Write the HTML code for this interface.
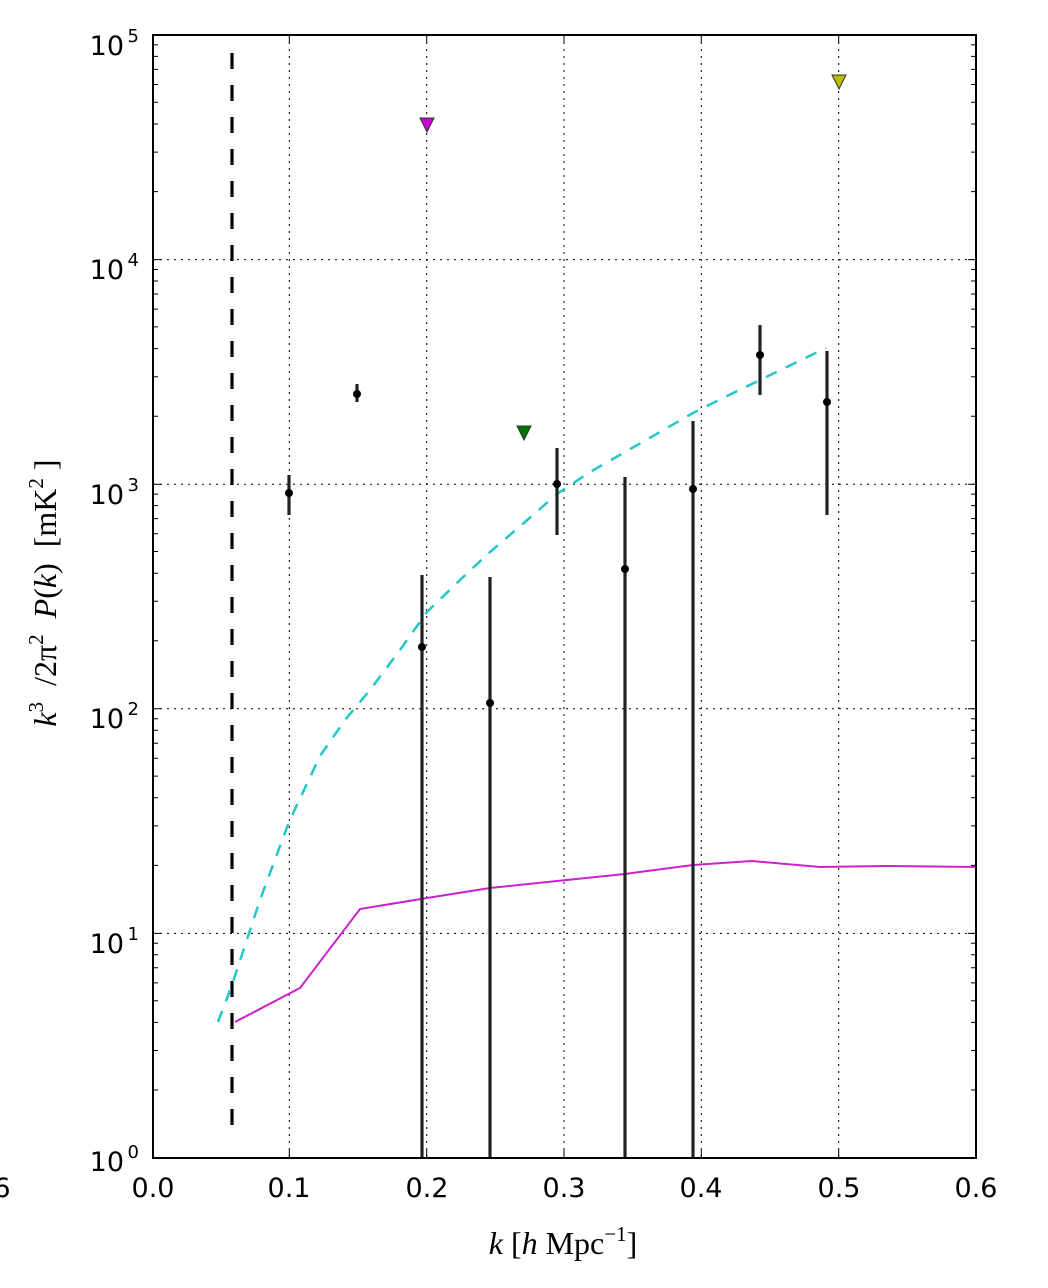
<!DOCTYPE html>
<html><head><style>body{margin:0;background:#fff}svg{display:block}</style></head><body>
<svg width="1048" height="1288" xmlns="http://www.w3.org/2000/svg" font-family="DejaVu Sans, Liberation Sans, sans-serif">
<rect width="1048" height="1288" fill="#fff"/>
<g stroke="#000" stroke-width="1" stroke-dasharray="2,5" fill="none">
<line x1="289.3" y1="35" x2="289.3" y2="1158"/><line x1="426.7" y1="35" x2="426.7" y2="1158"/>
<line x1="564" y1="35" x2="564" y2="1158"/><line x1="701.3" y1="35" x2="701.3" y2="1158"/>
<line x1="838.7" y1="35" x2="838.7" y2="1158"/>
<line x1="153" y1="259.6" x2="976" y2="259.6"/><line x1="153" y1="484.2" x2="976" y2="484.2"/>
<line x1="153" y1="708.8" x2="976" y2="708.8"/><line x1="153" y1="933.4" x2="976" y2="933.4"/>
</g>
<line x1="232" y1="53" x2="232" y2="1140" stroke="#000" stroke-width="3.2" stroke-dasharray="16,16"/>
<polyline fill="none" stroke="#22c8c8" stroke-width="2.5" stroke-dasharray="12,10" points="218,1022 232,985 260,900 289,822 320,756 345,720 370,690 400,650 427,612 460,580 490,552 525,522 557,494 590,472 625,452 660,432 693,413 727,396 760,380 793,364 826,348"/>
<polyline fill="none" stroke="#cc22cc" stroke-width="2" points="235,1022 300,988 360,909 427,898 490,888 557,881 625,874 693,865 752,861 820,867 885,866 976,867"/>
<g stroke="#222" stroke-width="3.2">
<line x1="289" y1="475" x2="289" y2="515"/><line x1="357" y1="384" x2="357" y2="402"/>
<line x1="422" y1="575" x2="422" y2="1158"/><line x1="490" y1="577" x2="490" y2="1158"/>
<line x1="557" y1="448" x2="557" y2="535"/><line x1="625" y1="477" x2="625" y2="1158"/>
<line x1="693" y1="421" x2="693" y2="1158"/><line x1="760" y1="325" x2="760" y2="395"/>
<line x1="827" y1="351" x2="827" y2="515"/>
</g>
<g fill="#000">
<circle cx="289" cy="493" r="4"/><circle cx="357" cy="394" r="4"/><circle cx="422" cy="647" r="4"/>
<circle cx="490" cy="703" r="4"/><circle cx="557" cy="484" r="4"/><circle cx="625" cy="569" r="4"/>
<circle cx="693" cy="489" r="4"/><circle cx="760" cy="355" r="4"/><circle cx="827" cy="402" r="4"/>
</g>
<polygon points="420,118 434,118 427,132" fill="#cc00cc" stroke="#333" stroke-width="1"/>
<polygon points="517,426 531,426 524,440" fill="#007700" stroke="#333" stroke-width="1"/>
<polygon points="832,75 846,75 839,89" fill="#bbbb00" stroke="#333" stroke-width="1"/>
<g stroke="#000" stroke-width="1">
<path d="M289.3,1158v-8M426.7,1158v-8M564,1158v-8M701.3,1158v-8M838.7,1158v-8M289.3,35v8M426.7,35v8M564,35v8M701.3,35v8M838.7,35v8"/>
<path d="M153,259.6h8M153,484.2h8M153,708.8h8M153,933.4h8M976,259.6h-8M976,484.2h-8M976,708.8h-8M976,933.4h-8"/>
<path id="mn" d="M153,0h5M153,-39.5h5M153,-67.6h5M153,-89.3h5M153,-107.1h5M153,-122.2h5M153,-135.2h5M153,-146.7h5M976,0h-5M976,-39.5h-5M976,-67.6h-5M976,-89.3h-5M976,-107.1h-5M976,-122.2h-5M976,-135.2h-5M976,-146.7h-5" transform="translate(0,1090)"/>
<use href="#mn" transform="translate(0,-224.6)"/><use href="#mn" transform="translate(0,-449.2)"/>
<use href="#mn" transform="translate(0,-673.8)"/><use href="#mn" transform="translate(0,-898.4)"/>
</g>
<rect x="153" y="35" width="823" height="1123" fill="none" stroke="#000" stroke-width="2"/>
<g font-size="27" fill="#000" text-anchor="middle">
<text x="153" y="1197">0.0</text><text x="289" y="1197">0.1</text><text x="427" y="1197">0.2</text>
<text x="564" y="1197">0.3</text><text x="701" y="1197">0.4</text><text x="839" y="1197">0.5</text><text x="976" y="1197">0.6</text>
<text x="2" y="1197">6</text>
</g>
<g font-size="27" fill="#000" text-anchor="end">
<text x="124" y="55">10</text><text x="139" y="42" font-size="18">5</text>
<text x="124" y="279">10</text><text x="139" y="266" font-size="18">4</text>
<text x="124" y="504">10</text><text x="139" y="491" font-size="18">3</text>
<text x="124" y="728">10</text><text x="139" y="715" font-size="18">2</text>
<text x="124" y="953">10</text><text x="139" y="940" font-size="18">1</text>
<text x="124" y="1171">10</text><text x="139" y="1158" font-size="18">0</text>
</g>
<text x="563" y="1254" font-size="32" text-anchor="middle" font-family="Liberation Serif, serif" xml:space="preserve"><tspan font-style="italic">k</tspan> [<tspan font-style="italic">h</tspan> Mpc<tspan dy="-13" font-size="21">−1</tspan><tspan dy="13">]</tspan></text>
<text transform="translate(56,593) rotate(-90)" font-size="32" text-anchor="middle" font-family="Liberation Serif, serif" xml:space="preserve"><tspan font-style="italic">k</tspan><tspan dy="-13" font-size="21">3</tspan><tspan dy="13">  /2π</tspan><tspan dy="-13" font-size="21">2</tspan><tspan dy="13">  </tspan><tspan font-style="italic">P</tspan>(<tspan font-style="italic">k</tspan>)  [mK<tspan dy="-13" font-size="21">2</tspan><tspan dy="13"> ]</tspan></text>
</svg>
</body></html>
